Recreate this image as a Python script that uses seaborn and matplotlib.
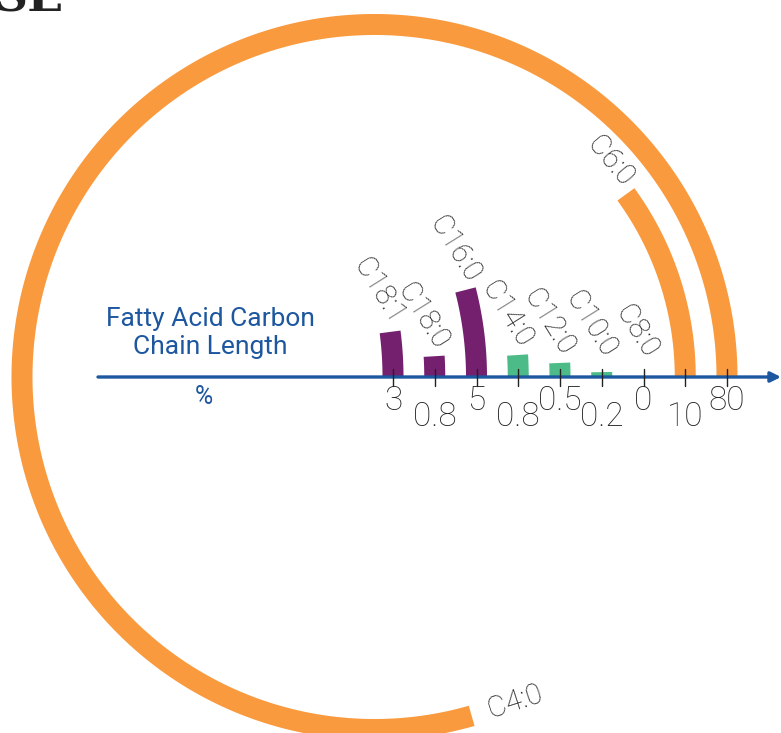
import numpy as np
import matplotlib.pyplot as plt
import seaborn as sns

# fatty acids, from the innermost ring to the outermost
acids = ["C18:1", "C18:0", "C16:0", "C14:0", "C12:0", "C10:0", "C8:0", "C6:0", "C4:0"]
percent = ["3", "0.8", "5", "0.8", "0.5", "0.2", "0", "10", "80"]
# how far each arc runs round, in degrees
sweep = [7.4, 3.4, 14.4, 3.6, 2.3, 0.8, 0.0, 36.0, 286.0]
group = ["long", "long", "long", "medium", "medium", "medium", "short", "short", "short"]

colors = {"long": "#74206e", "medium": "#4dbb87", "short": "#f99a3e"}
blue = "#1d57a0"
text_col = "#222222"

sns.set_theme(style="white")
plt.rcParams["font.family"] = ["Roboto", "DejaVu Sans"]
label_font = dict(family=["Roboto", "DejaVu Sans"], weight="light", color=text_col)

W, H = 781, 733
cx, cy = 374.5, 377          # centre of the rings, in pixels from top-left
fig = plt.figure(figsize=(W / 100, H / 100), dpi=100)
ax = fig.add_axes([0, 0, 1, 1])
ax.set_xlim(-cx, W - cx)
ax.set_ylim(-(H - cy), cy)
ax.set_axis_off()

band = 21          # arc thickness
step = 41.75       # ring spacing
first = 18.5       # first ring
bend = 350         # radius used to bend the short bars

for i, (name, pct, sw, g) in enumerate(zip(acids, percent, sweep, group)):
    pos = first + step * i
    big = sw > 20
    r = pos if big else bend
    ox = pos - r
    t = np.radians(np.linspace(0, sw, max(int(sw * 4), 2)))
    if sw > 0:
        xs = np.concatenate([ox + (r + band / 2) * np.cos(t), ox + (r - band / 2) * np.cos(t[::-1])])
        ys = np.concatenate([(r + band / 2) * np.sin(t), (r - band / 2) * np.sin(t[::-1])])
        ax.fill(xs, ys, color=colors[g], lw=0, zorder=2)
    ex, ey = ox + r * np.cos(np.radians(sw)), r * np.sin(np.radians(sw))

    # name of the acid at the end of its arc
    if not big:
        ax.text(ex + 8, max(ey + 10, 22), name, rotation=-58, rotation_mode="anchor",
                ha="right", va="center", fontsize=21, **label_font)
    elif sw < 180:
        ax.text(ex + 2, ey + 12, name, rotation=-50, rotation_mode="anchor",
                ha="right", va="center", fontsize=21, **label_font)
    else:
        a = np.radians(sw + 90)
        ax.text(ex + 18 * np.cos(a), ey + 18 * np.sin(a), name, rotation=18,
                rotation_mode="anchor", ha="left", va="center", fontsize=21,
                **label_font)

    # tick and value under the axis
    ax.plot([pos, pos], [8, -9], color=text_col, lw=1, zorder=4)
    ax.text(pos, -8 if i % 2 == 0 else -24, pct, ha="center", va="top",
            fontsize=24, **label_font)

# horizontal axis with arrow
ax.annotate("", xy=(W - cx, 0), xytext=(98 - cx, 0),
            arrowprops=dict(arrowstyle="-|>,head_length=0.5,head_width=0.25",
                            color=blue, lw=2.4, shrinkA=0, shrinkB=0), zorder=3)

ax.text(210 - cx, 44, "Fatty Acid Carbon\nChain Length", ha="center", va="center",
        fontsize=19, color=blue, linespacing=1.25)
ax.text(204 - cx, -20, "%", ha="center", va="center", fontsize=18, color=blue)

fig.text(-6 / W, 1 - 12 / H, "SE", ha="left", va="baseline", fontsize=34,
         family="DejaVu Serif", weight="bold", color="#222222")

fig.savefig("out.png", dpi=100)
